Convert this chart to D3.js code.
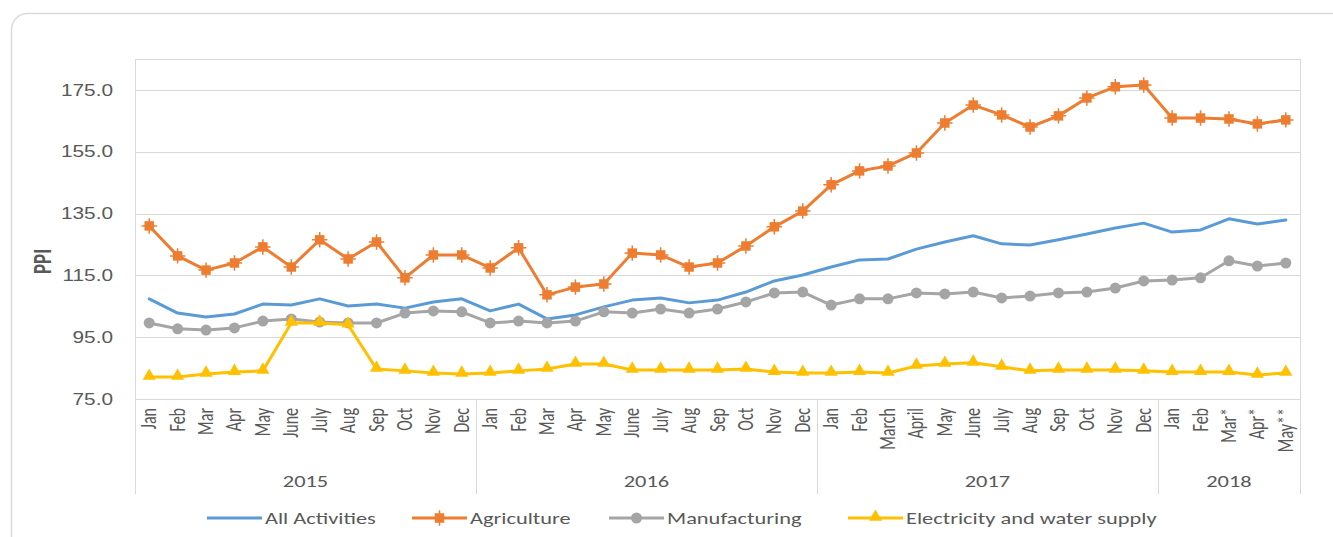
<!DOCTYPE html>
<html>
<head>
<meta charset="utf-8">
<script src="https://cdn.jsdelivr.net/npm/d3@7"></script>
<style>
  body { margin: 0; background: #fff; }
  svg { display: block; font-family: Calibri, Carlito, "Open Sans", "Liberation Sans", sans-serif; }
</style>
</head>
<body>
<svg id="chart" width="1333" height="537"></svg>
<script>
// month labels and year groups
var months = ["Jan","Feb","Mar","Apr","May","June","July","Aug","Sep","Oct","Nov","Dec",
              "Jan","Feb","Mar","Apr","May","June","July","Aug","Sep","Oct","Nov","Dec",
              "Jan","Feb","March","April","May","June","July","Aug","Sep","Oct","Nov","Dec",
              "Jan","Feb","Mar*","Apr*","May**"];
var years = [
    {label: "2015", count: 12},
    {label: "2016", count: 12},
    {label: "2017", count: 12},
    {label: "2018", count: 5}
];
var yTicks = [75, 95, 115, 135, 155, 175];

var allActivities = [107.4,102.8,101.5,102.5,105.7,105.4,107.4,105.1,105.7,104.4,106.4,107.4,
                     103.5,105.7,100.9,102.2,104.8,107.0,107.7,106.1,107.0,109.6,113.2,115.1,
                     117.7,120.0,120.3,123.5,125.8,127.8,125.2,124.8,126.5,128.4,130.3,131.9,
                     129.0,129.7,133.3,131.6,132.9];
var agriculture = [131.0,121.3,116.7,119.0,124.2,117.7,126.5,120.3,125.8,114.2,121.6,121.6,
                   117.4,123.9,108.7,111.2,112.2,122.2,121.6,117.7,119.0,124.5,130.7,135.8,
                   144.3,148.8,150.4,154.6,164.3,170.1,166.9,163.0,166.6,172.4,176.0,176.6,
                   165.9,165.9,165.6,164.0,165.3];
var manufacturing = [99.6,97.7,97.3,98.0,100.2,100.9,99.9,99.6,99.6,102.8,103.5,103.2,
                     99.6,100.2,99.6,100.2,103.2,102.8,104.1,102.8,104.1,106.4,109.3,109.6,
                     105.4,107.4,107.4,109.3,109.0,109.6,107.7,108.3,109.3,109.6,110.9,113.2,
                     113.5,114.2,119.7,118.0,119.0];
var electricity = [82.1,82.1,83.1,83.7,84.1,99.6,99.6,99.0,84.7,84.1,83.4,83.1,
                   83.4,84.1,84.7,86.3,86.3,84.4,84.4,84.4,84.4,84.7,83.7,83.4,
                   83.4,83.7,83.4,85.7,86.3,86.7,85.4,84.1,84.4,84.4,84.4,84.1,
                   83.7,83.7,83.7,82.8,83.4];

var series = [
    {name: "All Activities", values: allActivities, color: "#5B9BD5", marker: null},
    {name: "Agriculture", values: agriculture, color: "#ED7D31", marker: "star"},
    {name: "Manufacturing", values: manufacturing, color: "#A5A5A5", marker: "circle"},
    {name: "Electricity and water supply", values: electricity, color: "#FFC000", marker: "triangle"}
];

var svg = d3.select("#chart");
var plotLeft = 135, plotRight = 1300, plotTop = 59, plotBottom = 399, groupBottom = 494;
var stretch = 1.4; // the source image is wider than tall, text looks stretched
var textColor = "#595959";

// outer frame
svg.append("rect")
    .attr("x", 11.5).attr("y", 13.5)
    .attr("width", 1340).attr("height", 540)
    .attr("rx", 16)
    .attr("fill", "#fff")
    .attr("stroke", "#d9d9d9")
    .attr("stroke-width", 1.5);

var x = d3.scaleBand()
    .domain(d3.range(months.length))
    .range([plotLeft, plotRight]);

var y = d3.scaleLinear()
    .domain([75, 185])
    .range([plotBottom, plotTop]);

// gridlines
svg.append("g")
    .selectAll("line")
    .data(yTicks.concat([185]))
    .enter().append("line")
    .attr("x1", plotLeft).attr("x2", plotRight)
    .attr("y1", d => Math.round(y(d)) + 0.5)
    .attr("y2", d => Math.round(y(d)) + 0.5)
    .attr("stroke", "#d9d9d9")
    .attr("stroke-width", 1);

// y axis labels
var yAxis = d3.axisLeft(y).tickValues(yTicks).tickFormat(d3.format(".1f")).tickSize(0);
var yg = svg.append("g").attr("transform", "translate(" + plotLeft + ",0)").call(yAxis);
yg.select(".domain").remove();
yg.selectAll("text")
    .attr("x", 0)
    .attr("transform", "translate(-22,0) scale(1.3,1)")
    .attr("fill", textColor)
    .style("font-size", "16px");

svg.append("text")
    .attr("transform", "translate(51," + y(119.5) + ") scale(" + stretch + ",1) rotate(-90)")
    .attr("text-anchor", "middle")
    .attr("fill", textColor)
    .style("font-size", "19px")
    .style("font-weight", "bold")
    .text("PPI");

// group separators
var cum = [0];
years.forEach(function (g) { cum.push(cum[cum.length - 1] + g.count); });
svg.append("g")
    .selectAll("line")
    .data(cum)
    .enter().append("line")
    .attr("x1", d => Math.round(plotLeft + d * x.step()) + 0.5)
    .attr("x2", d => Math.round(plotLeft + d * x.step()) + 0.5)
    .attr("y1", d => (d === 0 || d === months.length) ? plotTop : plotBottom)
    .attr("y2", groupBottom)
    .attr("stroke", "#d9d9d9");

// month labels
svg.append("g")
    .selectAll("text")
    .data(months)
    .enter().append("text")
    .attr("transform", (d, i) => "translate(" + (x(i) + x.bandwidth() / 2 + 7) + "," + (plotBottom + 9) + ") scale(" + stretch + ",1) rotate(-90)")
    .attr("text-anchor", "end")
    .attr("fill", textColor)
    .style("font-size", "16px")
    .text(d => d);

// year labels
svg.append("g")
    .selectAll("text")
    .data(years)
    .enter().append("text")
    .attr("transform", (d, i) => "translate(" + (plotLeft + (cum[i] + d.count / 2) * x.step()) + ",487) scale(" + stretch + ",1)")
    .attr("text-anchor", "middle")
    .attr("fill", textColor)
    .style("font-size", "16px")
    .text(d => d.label);

var line = d3.line()
    .x((d, i) => x(i) + x.bandwidth() / 2)
    .y(d => y(d));

function drawMarker(g, type, color, cx, cy) {
    if (type === "circle") {
        g.append("circle").attr("cx", cx).attr("cy", cy).attr("r", 5.5).attr("fill", color);
    } else if (type === "triangle") {
        g.append("path")
            .attr("d", d3.symbol().type(d3.symbolTriangle).size(75)())
            .attr("transform", "translate(" + cx + "," + (cy - 1) + ")")
            .attr("fill", color);
    } else if (type === "star") {
        g.append("path")
            .attr("d", d3.symbol().type(d3.symbolSquare).size(90)())
            .attr("transform", "translate(" + cx + "," + cy + ")")
            .attr("fill", color);
        g.append("path")
            .attr("d", d3.symbol().type(d3.symbolPlus).size(80)())
            .attr("transform", "translate(" + cx + "," + cy + ")")
            .attr("fill", "none")
            .attr("stroke", color)
            .attr("stroke-width", 1.5);
    }
}

series.forEach(function (s) {
    var g = svg.append("g");
    g.append("path")
        .datum(s.values)
        .attr("d", line)
        .attr("fill", "none")
        .attr("stroke", s.color)
        .attr("stroke-width", 3)
        .attr("stroke-linejoin", "round")
        .attr("stroke-linecap", "round");
    if (s.marker) {
        s.values.forEach(function (v, i) {
            drawMarker(g, s.marker, s.color, x(i) + x.bandwidth() / 2, y(v));
        });
    }
});

// legend
var legendX = [207, 412, 609, 848];
var legend = svg.append("g");
series.forEach(function (s, i) {
    var lx = legendX[i], ly = 518;
    legend.append("line")
        .attr("x1", lx).attr("x2", lx + 55)
        .attr("y1", ly).attr("y2", ly)
        .attr("stroke", s.color)
        .attr("stroke-width", 3);
    if (s.marker) drawMarker(legend, s.marker, s.color, lx + 27.5, ly);
    legend.append("text")
        .attr("transform", "translate(" + (lx + 58) + "," + (ly + 5.5) + ") scale(" + stretch + ",1)")
        .attr("fill", textColor)
        .style("font-size", "16px")
        .text(s.name);
});
</script>
</body>
</html>
